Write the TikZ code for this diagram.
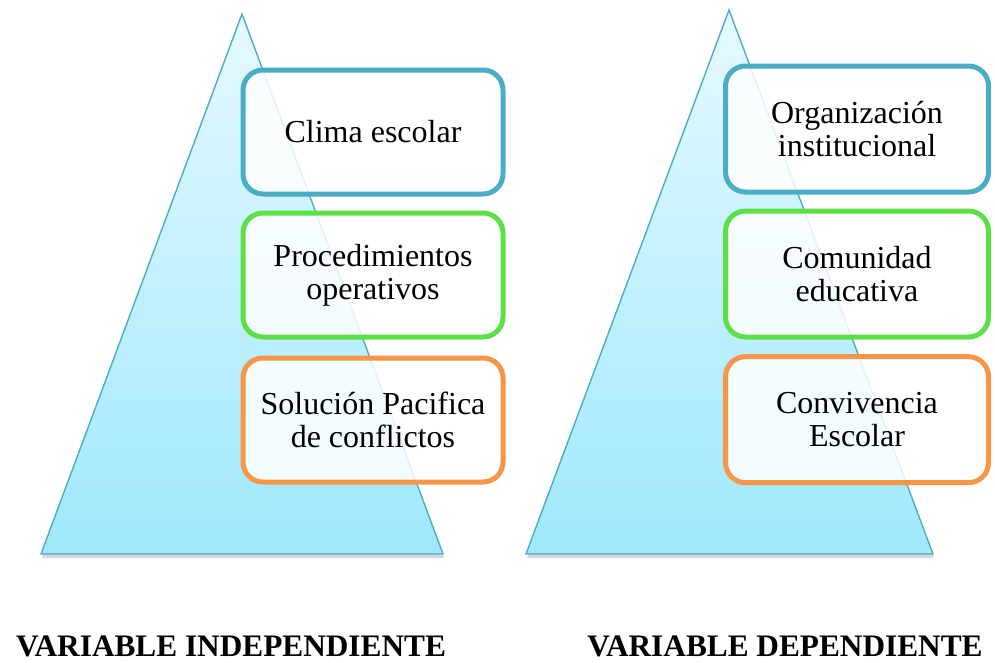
\documentclass[tikz,border=0pt]{standalone}
\usepackage{fontspec}
\setmainfont{Liberation Serif}
\usetikzlibrary{shadows,shapes.misc}
\definecolor{triedge}{HTML}{4BACC6}
\definecolor{tritop}{HTML}{E6F9FF}
\definecolor{tribot}{HTML}{9FE8FC}
\definecolor{bblue}{HTML}{4BACC6}
\definecolor{bgreen}{HTML}{5CE046}
\definecolor{borange}{HTML}{F79646}
\tikzset{
  tri/.style={draw=triedge, line width=1.4pt, top color=tritop, bottom color=tribot,
    drop shadow={shadow xshift=1pt, shadow yshift=-4pt, opacity=0.3}},
  varbox/.style={draw, line width=5pt, rounded corners=20pt, fill=white, fill opacity=0.85,
    text opacity=1, minimum width=260pt, minimum height=124pt, align=center,
    font=\fontsize{32}{33}\selectfont},
  varlabel/.style={font=\fontsize{31.3}{34}\selectfont\bfseries, anchor=base, inner ysep=0pt}
}
\begin{document}
\begin{tikzpicture}[x=1pt,y=-1pt]
\useasboundingbox (0,0) rectangle (995,662);
% left triangle
\coordinate (la) at (242,14);
\coordinate (lb) at (41,554);
\coordinate (lc) at (443,554);
\path[tri] (la) -- (lb) -- (lc) -- cycle;
% right triangle
\coordinate (ra) at (729,10);
\coordinate (rb) at (526,554);
\coordinate (rc) at (933,554);
\path[tri] (ra) -- (rb) -- (rc) -- cycle;
% left boxes
\node[varbox, draw=bblue] (l1) at (373,132) {Clima escolar};
\node[varbox, draw=bgreen] (l2) at (373,275) {Procedimientos\\operativos};
\node[varbox, draw=borange] (l3) at (373,420) {Solución Pacifica\\de conflictos};
% right boxes
\node[varbox, draw=bblue, minimum width=263pt, minimum height=126pt] (r1) at (857,129) {Organización\\institucional};
\node[varbox, draw=bgreen, minimum width=263pt, minimum height=126pt] (r2) at (857,274) {Comunidad\\educativa};
\node[varbox, draw=borange, minimum width=263pt, minimum height=126pt] (r3) at (857,419.7) {Convivencia\\Escolar};
% labels
\node[varlabel] (vi) at (231,656) {VARIABLE INDEPENDIENTE};
\node[varlabel] (vd) at (785,656) {VARIABLE DEPENDIENTE};
\end{tikzpicture}
\end{document}
